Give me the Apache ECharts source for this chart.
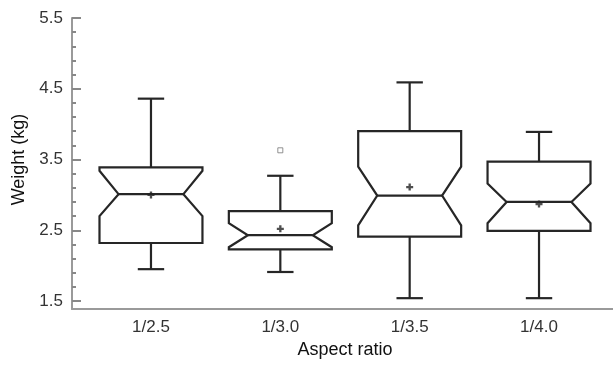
<!DOCTYPE html>
<html>
<head>
<meta charset="utf-8">
<script src="https://cdn.jsdelivr.net/npm/echarts@6/dist/echarts.min.js"></script>
<style>
html,body{margin:0;padding:0;background:#fff;}
#chart{width:613px;height:366px;}
</style>
</head>
<body>
<div id="chart"></div>
<script>
// ---- data ----
var categories  = ['1/2.5', '1/3.0', '1/3.5', '1/4.0'];
var whiskerLow  = [1.95, 1.91, 1.54, 1.54];
var q1          = [2.32, 2.23, 2.41, 2.49];
var median      = [3.01, 2.43, 2.99, 2.90];
var q3          = [3.39, 2.77, 3.90, 3.47];
var whiskerHigh = [4.36, 3.27, 4.59, 3.89];
var notchLow    = [2.70, 2.26, 2.57, 2.60];
var notchHigh   = [3.34, 2.60, 3.40, 3.16];
var means       = [3.00, 2.52, 3.11, 2.87];
var outliers    = [[1, 3.63]];
var yTicks      = [1.5, 2.5, 3.5, 4.5, 5.5];

var boxData = categories.map(function (c, i) {
  return [i, whiskerLow[i], q1[i], median[i], q3[i], whiskerHigh[i], notchLow[i], notchHigh[i]];
});
var meanData = categories.map(function (c, i) { return [i, means[i]]; });

var LINE = '#262626';
var AXIS = '#9a9a9a';
var tickFont = 'Liberation Sans, Arial, sans-serif';

function renderBox(params, api) {
  var i = api.value(0);
  var pLow = api.coord([i, api.value(1)]);
  var pQ1 = api.coord([i, api.value(2)]);
  var pMed = api.coord([i, api.value(3)]);
  var pQ3 = api.coord([i, api.value(4)]);
  var pHigh = api.coord([i, api.value(5)]);
  var pNL = api.coord([i, api.value(6)]);
  var pNH = api.coord([i, api.value(7)]);
  var band = api.size([1, 0])[0];
  var x = pMed[0];
  var h = band * 0.398;
  var inset = h * 0.37;
  var cap = band * 0.102;
  var style = { stroke: LINE, lineWidth: 2.2, fill: 'none' };
  var pts = [
    [x - h, pQ3[1]], [x + h, pQ3[1]], [x + h, pNH[1]], [x + h - inset, pMed[1]],
    [x + h, pNL[1]], [x + h, pQ1[1]], [x - h, pQ1[1]], [x - h, pNL[1]],
    [x - h + inset, pMed[1]], [x - h, pNH[1]]
  ];
  return {
    type: 'group',
    children: [
      { type: 'polygon', shape: { points: pts }, style: style },
      { type: 'line', shape: { x1: x - h + inset, y1: pMed[1], x2: x + h - inset, y2: pMed[1] }, style: style },
      { type: 'line', shape: { x1: x, y1: pQ3[1], x2: x, y2: pHigh[1] }, style: style },
      { type: 'line', shape: { x1: x - cap, y1: pHigh[1], x2: x + cap, y2: pHigh[1] }, style: style },
      { type: 'line', shape: { x1: x, y1: pQ1[1], x2: x, y2: pLow[1] }, style: style },
      { type: 'line', shape: { x1: x - cap, y1: pLow[1], x2: x + cap, y2: pLow[1] }, style: style }
    ]
  };
}

var chart = echarts.init(document.getElementById('chart'), null, { renderer: 'canvas' });
chart.setOption({
  animation: false,
  backgroundColor: '#fff',
  grid: [
    { left: 72, right: 0, top: 18, bottom: 57 },
    { left: 86.3, right: 9.3, top: 18, bottom: 65 }
  ],
  xAxis: [
    { gridIndex: 0, type: 'value', min: 0, max: 1,
      axisLine: { show: true, lineStyle: { color: AXIS, width: 2 } },
      axisTick: { show: false }, axisLabel: { show: false }, splitLine: { show: false } },
    { gridIndex: 1, type: 'category', data: categories,
      axisLine: { show: false }, axisTick: { show: false }, splitLine: { show: false },
      axisLabel: { color: '#333', fontFamily: tickFont, fontSize: 17, margin: 18 },
      name: 'Aspect ratio', nameLocation: 'middle', nameGap: 40,
      nameTextStyle: { color: '#111', fontFamily: 'Liberation Sans, Arial, sans-serif', fontSize: 18 } }
  ],
  yAxis: [
    { gridIndex: 0, type: 'value', min: 0, max: 1,
      axisLine: { show: true, lineStyle: { color: AXIS, width: 2 } },
      axisTick: { show: false }, axisLabel: { show: false }, splitLine: { show: false } },
    { gridIndex: 1, type: 'value', min: yTicks[0], max: yTicks[yTicks.length - 1], interval: 1,
      offset: 14.3,
      axisLine: { show: false },
      axisTick: { show: true, inside: true, length: 9, lineStyle: { color: '#888', width: 2 } },
      minorTick: { show: true, splitNumber: 5, length: 4, lineStyle: { color: '#888', width: 2 } },
      splitLine: { show: false },
      axisLabel: { color: '#333', fontFamily: tickFont, fontSize: 17, margin: 9,
        formatter: function (v) { return v.toFixed(1); } },
      name: 'Weight (kg)', nameLocation: 'middle', nameRotate: 90, nameGap: 40,
      nameTextStyle: { color: '#111', fontFamily: 'Liberation Sans, Arial, sans-serif', fontSize: 18 } }
  ],
  series: [
    { type: 'custom', xAxisIndex: 1, yAxisIndex: 1, data: boxData, renderItem: renderBox, z: 3 },
    { type: 'scatter', xAxisIndex: 1, yAxisIndex: 1, data: meanData,
      symbol: 'path://M2,0H4V2H6V4H4V6H2V4H0V2H2Z', symbolSize: 7,
      itemStyle: { color: '#222' }, z: 4 },
    { type: 'scatter', xAxisIndex: 1, yAxisIndex: 1, data: outliers,
      symbol: 'rect', symbolSize: 5,
      itemStyle: { color: '#fff', borderColor: '#777', borderWidth: 1 }, z: 4 }
  ]
});
</script>
</body>
</html>
